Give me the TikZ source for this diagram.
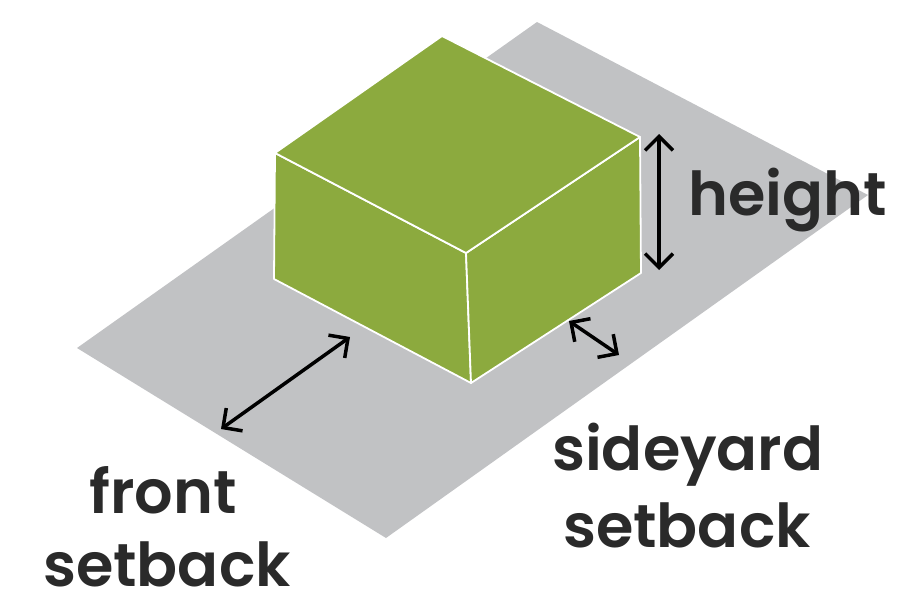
\documentclass[tikz,border=0pt]{standalone}
\usepackage{fontspec}
\usetikzlibrary{arrows.meta}
\newfontfamily\lblfont{Poppins SemiBold}
\definecolor{lotgray}{HTML}{C1C2C4}
\definecolor{massgreen}{HTML}{8CAA3E}
\definecolor{labelink}{HTML}{2A2A2A}
\begin{document}
\begin{tikzpicture}[x=1pt,y=-1pt,
  lot/.style={fill=lotgray},
  face/.style={fill=massgreen,draw=white,line width=1.8pt,line join=round},
  dim/.style={draw=black,line width=3.5pt,{Straight Barb[length=14pt,width=28pt]}-{Straight Barb[length=14pt,width=28pt]}},
  lbl/.style={text=labelink,inner sep=0pt,anchor=base west,font=\lblfont\fontsize{60.5}{72}\selectfont}]
\useasboundingbox (0,0) rectangle (914,597);
% lot corners
\coordinate (lotL) at (77,348);
\coordinate (lotT) at (537,22);
\coordinate (lotR) at (868,195);
\coordinate (lotB) at (386,538);
\fill[lot] (lotL) -- (lotT) -- (lotR) -- (lotB) -- cycle;
% building corners
\coordinate (tB) at (442,36);
\coordinate (tL) at (275,153);
\coordinate (tF) at (466,253);
\coordinate (tR) at (640,137);
\coordinate (bL) at (274,279);
\coordinate (bF) at (471,383);
\coordinate (bR) at (641,273);
\path[face] (tL) -- (tF) -- (bF) -- (bL) -- cycle;
\path[face] (tF) -- (tR) -- (bR) -- (bF) -- cycle;
\path[face] (tB) -- (tR) -- (tF) -- (tL) -- cycle;
% dimension arrow ends
\coordinate (hTop) at (659,134);
\coordinate (hBot) at (659,270);
\coordinate (fA) at (221,429);
\coordinate (fB) at (350,337);
\coordinate (sA) at (569,321);
\coordinate (sB) at (619,355);
\draw[dim] (hTop) -- (hBot);
\draw[dim] (fA) -- (fB);
\draw[dim] (sA) -- (sB);
% labels (setback words have no descenders, so no depth is needed)
\node[lbl] (height) at (688,215) {height};
\node[lbl] (front) at (89,513) {front};
\node[lbl,text depth=0pt] (frontsb) at (43,586) {setback};
\node[lbl] (side) at (552,470) {sideyard};
\node[lbl,text depth=0pt] (sidesb) at (563,547) {setback};
\end{tikzpicture}
\end{document}
